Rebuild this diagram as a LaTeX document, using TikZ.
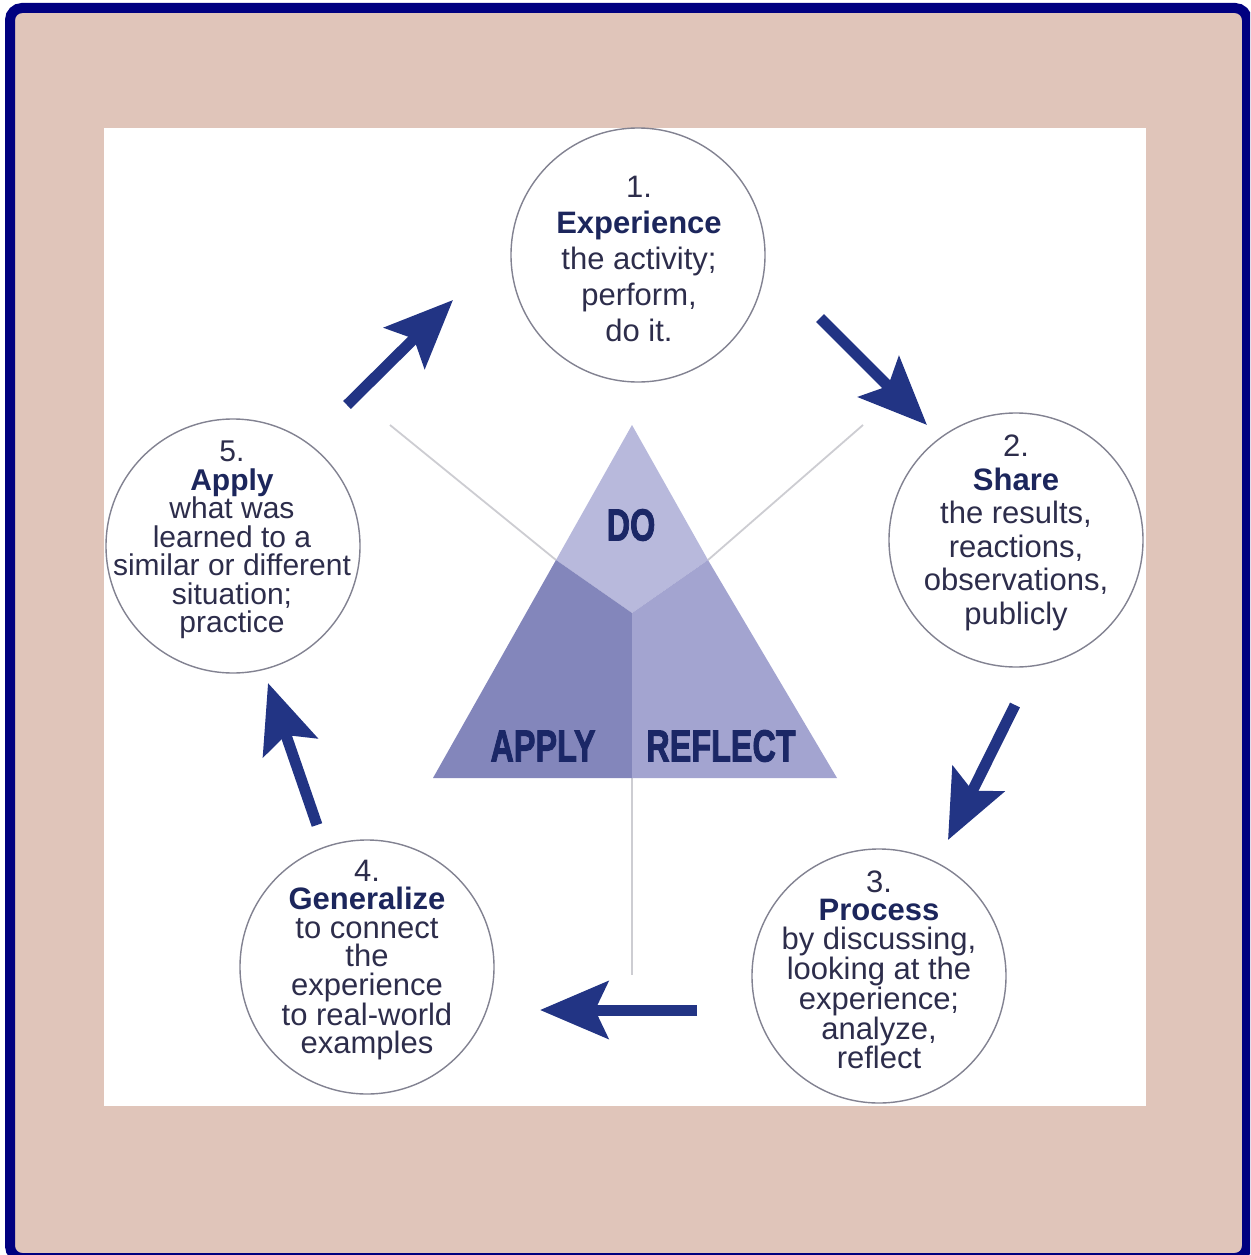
\documentclass[tikz,border=0pt]{standalone}
\usepackage{fontspec}
\setmainfont{Liberation Sans}
\newfontfamily\trifont{Liberation Sans}[BoldFeatures={FakeBold=2.2}]
\usetikzlibrary{arrows.meta}
\definecolor{tanbg}{RGB}{224,197,186}
\definecolor{framenavy}{RGB}{0,0,128}
\definecolor{arrowblue}{RGB}{34,52,132}
\definecolor{tritop}{RGB}{184,185,220}
\definecolor{trileft}{RGB}{131,134,187}
\definecolor{triright}{RGB}{163,164,208}
\definecolor{trilabel}{RGB}{27,39,102}
\definecolor{ringgray}{RGB}{130,130,145}
\definecolor{guidegray}{RGB}{205,205,210}
\definecolor{bodytext}{RGB}{45,45,75}
\definecolor{titletext}{RGB}{28,38,92}
\tikzset{
  stage/.style={circle, draw=ringgray, line width=1.4, fill=white, minimum size=254, inner sep=0},
  stagetext/.style={align=center, inner sep=0, text=bodytext},
  guide/.style={draw=guidegray, line width=1.8},
  bigarrow/.style={draw=arrowblue, line width=11, -{Stealth[length=68pt, width=57pt, inset=13pt, fill=arrowblue]}},
  trilab/.style={inner sep=0, text=trilabel, font=\trifont\bfseries\fontsize{45}{45}\selectfont},
}
\newcommand{\stagetitle}[1]{\textcolor{titletext}{\bfseries #1}}
\begin{document}
\begin{tikzpicture}[x=1pt,y=-1pt]
\useasboundingbox (0,0) rectangle (1250,1255);
\begin{scope}
\clip (0,0) rectangle (1250,1255);
\draw[line width=10, draw=framenavy, fill=tanbg, rounded corners=12] (10,8) rectangle (1247,1258);
\end{scope}
\fill[white] (104,128) rectangle (1146,1106);

% triangle geometry
\coordinate (A) at (632,425);
\coordinate (BL) at (433,778);
\coordinate (BR) at (837,778);
\coordinate (L) at (556,560);
\coordinate (R) at (708,560);
\coordinate (C) at (632,613);
\coordinate (M) at (632,778);
\coordinate (g1) at (390,425);
\coordinate (g2) at (863,425);
\coordinate (g3) at (632,975);

% guide lines
\draw[guide] (g1) -- (L);
\draw[guide] (g2) -- (R);
\draw[guide] (M) -- (g3);

% triangle
\fill[tritop] (A) -- (R) -- (C) -- (L) -- cycle;
\fill[trileft] (L) -- (C) -- (M) -- (BL) -- cycle;
\fill[triright] (R) -- (BR) -- (M) -- (C) -- cycle;
\node[trilab] (do) at (631,525) {\scalebox{0.72}[1]{DO}};
\node[trilab] (apply) at (543,746) {\scalebox{0.72}[1]{APPLY}};
\node[trilab] (reflect) at (721,746) {\scalebox{0.72}[1]{REFLECT}};

% circles
\node[stage] (c1) at (638,255) {};
\node[stage] (c2) at (1016,540) {};
\node[stage] (c3) at (879,976) {};
\node[stage] (c4) at (367,967) {};
\node[stage] (c5) at (233,546) {};

\node[stagetext, font=\fontsize{31}{36}\selectfont] (t1) at (639,259)
  {1.\\ \stagetitle{Experience}\\ the activity;\\ perform,\\ do it.};
\node[stagetext, font=\fontsize{31}{33.5}\selectfont] (t2) at (1016,533)
  {2.\\ \stagetitle{Share}\\ the results,\\ reactions,\\ observations,\\ publicly};
\node[stagetext, font=\fontsize{31}{28.5}\selectfont] (t3) at (879,970)
  {3.\\ \stagetitle{Process}\\ by discussing,\\ looking at the\\ experience;\\ analyze,\\ reflect};
\node[stagetext, font=\fontsize{31}{28.5}\selectfont] (t4) at (367,960)
  {4.\\ \stagetitle{Generalize}\\ to connect\\ the\\ experience\\ to real-world\\ examples};
\node[stagetext, font=\fontsize{30}{28.5}\selectfont] (t5) at (232,540)
  {5.\\ \stagetitle{Apply}\\ what was\\ learned to a\\ similar or different\\ situation;\\ practice};

% arrows
\coordinate (a1s) at (347,405); \coordinate (a1e) at (453,300);
\coordinate (a2s) at (820,318); \coordinate (a2e) at (927,425);
\coordinate (a3s) at (1015,705); \coordinate (a3e) at (948,840);
\coordinate (a4s) at (697,1010); \coordinate (a4e) at (540,1010);
\coordinate (a5s) at (317,825); \coordinate (a5e) at (268,683);
\draw[bigarrow] (a1s) -- (a1e);
\draw[bigarrow] (a2s) -- (a2e);
\draw[bigarrow] (a3s) -- (a3e);
\draw[bigarrow] (a4s) -- (a4e);
\draw[bigarrow] (a5s) -- (a5e);
\end{tikzpicture}
\end{document}
